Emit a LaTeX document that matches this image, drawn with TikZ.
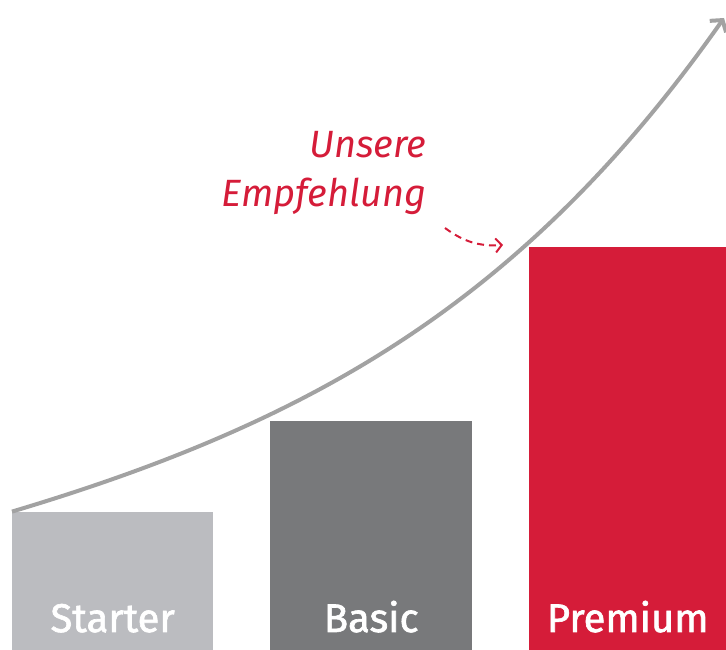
\documentclass[tikz,border=0pt]{standalone}
\usepackage{fontspec}
\setmainfont{Fira Sans}
\newfontfamily\barfont{Fira Sans}[FakeBold=1.6]
\usetikzlibrary{arrows.meta, positioning}
\definecolor{startergray}{HTML}{BBBCC0}
\definecolor{basicgray}{HTML}{78797B}
\definecolor{premiumred}{HTML}{D51C39}
\definecolor{curvegray}{HTML}{A2A2A2}
\tikzset{
  bar/.style={anchor=south west, inner sep=0pt, minimum width=#1},
  barlabel/.style={text=white, font=\barfont\fontsize{40}{40}\selectfont, anchor=base},
  note/.style={text=premiumred, font=\fontsize{38}{49}\selectfont\itshape, align=right}
}

\begin{document}
\begin{tikzpicture}[x=1pt, y=1pt]
  \useasboundingbox (0, 0) rectangle (726, 650);
  \node [bar=201pt, fill=startergray, minimum height=138pt] (starter) at (12, 0) {};
  \node [bar=202pt, fill=basicgray, minimum height=229pt] (basic) at (270, 0) {};
  \node [bar=197pt, fill=premiumred, minimum height=403pt] (premium) at (529, 0) {};
  \node [barlabel] (lstarter) at ([yshift=18pt]starter.south) {Starter};
  \node [barlabel] (lbasic) at ([yshift=18pt]basic.south) {Basic};
  \node [barlabel] (lpremium) at ([yshift=18pt]premium.south) {Premium};
  \coordinate (tip) at (724, 632);
  \draw [curvegray, line width=4pt, -{Straight Barb[length=8pt, width=20pt]}]
    (starter.north west) .. controls (312, 228) and (524, 348) .. (tip);
  \node [note, anchor=north east] (empf) at (430, 522) {Unsere\\Empfehlung};
  \coordinate (hint) at (503, 405);
  \draw [premiumred, line width=2pt, dashed, dash pattern=on 7pt off 5pt, -{Straight Barb[length=6pt, width=14pt]}]
    (445, 422) to [bend right=20] (hint);
\end{tikzpicture}
\end{document}
